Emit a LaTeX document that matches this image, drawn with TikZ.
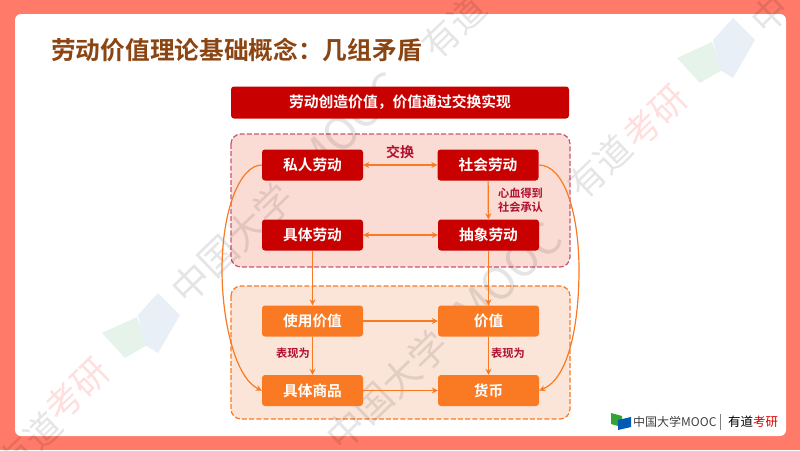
\documentclass[tikz,border=0pt]{standalone}
\usepackage{fontspec}
\setmainfont{Noto Sans CJK SC}[BoldFont={Noto Sans CJK SC Bold}]
\usetikzlibrary{arrows.meta}
\definecolor{bgsal}{HTML}{FF7A68}
\definecolor{dred}{HTML}{C80000}
\definecolor{orng}{HTML}{F97A22}
\definecolor{titlebrown}{HTML}{8B4513}
\definecolor{lab}{HTML}{B01030}
\definecolor{wmgreen}{HTML}{E6F3EB}
\definecolor{wmblue}{HTML}{E9EFF7}
\definecolor{grpa}{HTML}{FBDCD4}
\definecolor{grpb}{HTML}{FBE5D9}
\definecolor{grpline}{HTML}{CC5570}
\newcommand{\wmbook}[2]{%
 \fill[wmgreen,shift={(#1,#2)}] (677,58) -- (712,42) -- (722,70) -- (700,83) -- cycle;
 \fill[wmblue,shift={(#1,#2)}] (713,40) -- (733,18) -- (755,40) -- (733,78) -- (720,70) -- cycle;}
\tikzset{
 x=1pt,y=-1pt,
 redbox/.style={fill=dred,rounded corners=3pt,text=white,font=\bfseries\fontsize{14.7}{16}\selectfont,minimum width=101pt,minimum height=31pt,inner sep=0pt},
 orbox/.style={redbox,fill=orng},
 grp/.style={dash pattern=on 5pt off 2.2pt,line width=1.2pt,rounded corners=10pt},
 conn/.style={draw=orng,line width=1.2pt,-{Stealth[length=6pt,width=6pt]}},
 conn2/.style={draw=orng,line width=1.2pt,{Stealth[length=6pt,width=6pt]}-{Stealth[length=6pt,width=6pt]}},
 lbl/.style={text=lab,font=\bfseries\fontsize{11.2}{14}\selectfont,align=center,inner sep=0pt},
 wm/.style={text=black,text opacity=.1,font=\fontsize{36}{36}\selectfont,rotate=44,inner sep=0pt,anchor=center},
 wmp/.style={wm,text=red,text opacity=.13},
 wmo/.style={wm,font=\fontsize{44}{44}\selectfont},
}
\begin{document}
\begin{tikzpicture}
\useasboundingbox (0,0) rectangle (800,450);
\fill[bgsal] (0,0) rectangle (800,450);
\fill[white,rounded corners=6pt] (15,14) rectangle (786,436);
\wmbook{0}{0}
\wmbook{-575}{275}
% groups
\draw[grp,draw=grpline,fill=grpa] (231,134) rectangle (570,267);
\draw[grp,draw=orng,fill=grpb] (231,286) rectangle (570,419);
% watermarks
\node[wm,font=\fontsize{38}{38}\selectfont] (w1) at (232,243) {中国大学};
\node[wmo] (w1b) at (350,125) {MOOC};
\node[wm,font=\fontsize{38}{38}\selectfont] (w2) at (387,390) {中国大学};
\node[wmo] (w2b) at (508,275) {MOOC};
\node[wm] (w3) at (454,27) {有道};
\node[wm] (w4) at (600,167) {有道};
\node[wmp] (w5) at (655,117) {考研};
\node[wmp] (w6) at (77,390) {考研};
\node[wm] (w7) at (30,444) {有道};
\node[wm] (w8) at (770,14) {中};
% title
\node[anchor=west,inner sep=0pt,text=titlebrown,font=\bfseries\fontsize{24.7}{26}\selectfont] (title) at (51,50.5) {劳动价值理论基础概念：几组矛盾};
\node[redbox,minimum width=338pt,minimum height=32pt,font=\bfseries\fontsize{14.8}{16}\selectfont] (top) at (400,102.5) {劳动创造价值，价值通过交换实现};
\node[redbox] (a) at (312.5,165) {私人劳动};
\node[redbox] (b) at (488,165) {社会劳动};
\node[redbox] (c) at (312.5,235) {具体劳动};
\node[redbox] (d) at (488.5,235) {抽象劳动};
\node[orbox] (e) at (312.5,321) {使用价值};
\node[orbox] (f) at (488.5,321) {价值};
\node[orbox] (g) at (312.5,390.5) {具体商品};
\node[orbox] (h) at (488.5,390.5) {货币};
\draw[conn2] (a) -- (b);
\draw[conn2] (c) -- (d);
\draw[conn] (b) -- (d);
\draw[conn] (c) -- (e);
\draw[conn] (d) -- (f);
\draw[conn] (e) -- (f);
\draw[conn] (e) -- (g);
\draw[conn] (f) -- (h);
\draw[conn] (g) -- (h);
\draw[conn] (a.west) .. controls (240,165) and (222,210) .. (222,270) .. controls (222,320) and (235,378) .. (g.west);
\draw[conn] (b.east) .. controls (565,165) and (579,215) .. (579,270) .. controls (579,320) and (570,378) .. (h.east);
\node[lbl,font=\bfseries\fontsize{14}{16}\selectfont] (l1) at (400,152) {交换};
\node[lbl] (l2) at (520.5,200) {心血得到\\社会承认};
\node[lbl] (l3) at (293,353.5) {表现为};
\node[lbl] (l4) at (508,353.5) {表现为};
% logo
\fill[green!55!black!80!white] (611,413) -- (622,416) -- (622,427) -- (611,424) -- cycle;
\fill[blue!50!cyan!70!black] (618,420) -- (631,417) -- (631,427) -- (618,430) -- cycle;
\node[anchor=west,inner sep=0pt,text=black!75,font=\fontsize{12}{14}\selectfont] (m) at (633,422) {中国大学MOOC};
\coordinate (s1) at (720,414);
\coordinate (s2) at (720,430);
\draw[black!50,line width=.5pt] (s1) -- (s2);
\node[anchor=west,inner sep=0pt,font=\fontsize{12.5}{14}\selectfont] (y) at (728,422) {有道\textcolor{red!85!black}{考研}};
\end{tikzpicture}
\end{document}
